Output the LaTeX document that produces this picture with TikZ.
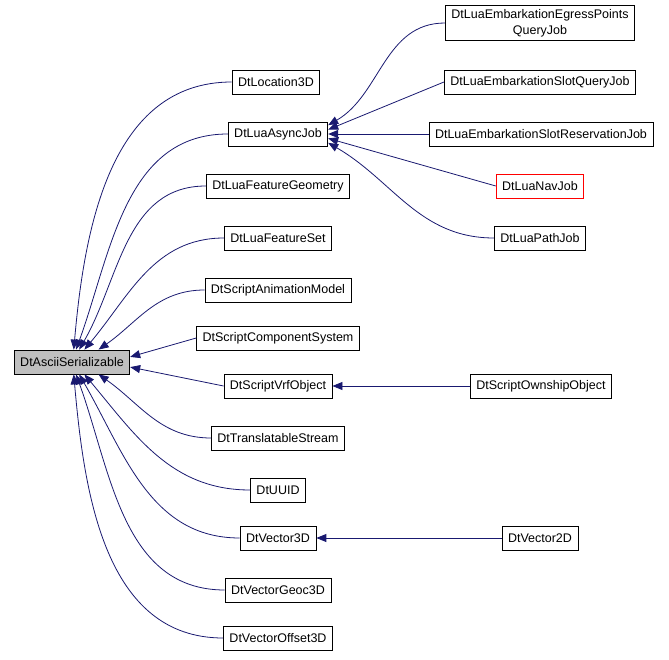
\documentclass[tikz,border=0pt]{standalone}
\usepackage{fontspec}
\setmainfont{Liberation Sans}
\usetikzlibrary{arrows.meta}

\definecolor{edgeblue}{HTML}{191970}

\begin{document}
\begin{tikzpicture}[x=1pt,y=-1pt,thick,
  class node/.style={draw,rectangle,inner xsep=6pt,minimum height=24pt,line width=0.8pt,font=\fontsize{12.5}{15}\selectfont},
  edge/.style={{Triangle[length=10pt,width=8pt,fill=edgeblue]}-,draw=edgeblue,line width=0.8pt}]

  \useasboundingbox (0,0) rectangle (669,660);

  \node[class node,fill=black!25] (ascii) at (72,362) {DtAsciiSerializable};

  \node[class node] (loc) at (276,82) {DtLocation3D};
  \node[class node] (async) at (278,134) {DtLuaAsyncJob};
  \node[class node] (geom) at (278,186) {DtLuaFeatureGeometry};
  \node[class node] (fset) at (278,238) {DtLuaFeatureSet};
  \node[class node] (anim) at (278,290) {DtScriptAnimationModel};
  \node[class node] (comp) at (278,338) {DtScriptComponentSystem};
  \node[class node] (vrf) at (278,386) {DtScriptVrfObject};
  \node[class node] (trans) at (278,438) {DtTranslatableStream};
  \node[class node] (uuid) at (278,490) {DtUUID};
  \node[class node] (v3d) at (278,538) {DtVector3D};
  \node[class node] (geoc) at (278,590) {DtVectorGeoc3D};
  \node[class node] (offs) at (278,638) {DtVectorOffset3D};

  \node[class node,align=center,font=\fontsize{12.5}{16}\selectfont] (egress) at (540,23) {DtLuaEmbarkationEgressPoints\\QueryJob};
  \node[class node] (slotq) at (540,82) {DtLuaEmbarkationSlotQueryJob};
  \node[class node] (slotr) at (541,134) {DtLuaEmbarkationSlotReservationJob};
  \node[class node,draw=red] (nav) at (540,186) {DtLuaNavJob};
  \node[class node] (path) at (540,238) {DtLuaPathJob};
  \node[class node] (own) at (541,386) {DtScriptOwnshipObject};
  \node[class node] (v2d) at (540,538) {DtVector2D};

  % base class edges
  \draw[edge] (ascii.82) to[out=85,in=180] (loc.west);
  \draw[edge] (ascii.72) to[out=70,in=180] (async.west);
  \draw[edge] (ascii.60) to[out=60,in=180] (geom.west);
  \draw[edge] (ascii.45) to[out=50,in=180] (fset.west);
  \draw[edge] (ascii.25) to[out=35,in=180] (anim.west);
  \draw[edge] (ascii.5) -- (comp.west);
  \draw[edge] (ascii.-5) -- (vrf.west);
  \draw[edge] (ascii.-25) to[out=-35,in=180] (trans.west);
  \draw[edge] (ascii.-45) to[out=-50,in=180] (uuid.west);
  \draw[edge] (ascii.-60) to[out=-60,in=180] (v3d.west);
  \draw[edge] (ascii.-72) to[out=-70,in=180] (geoc.west);
  \draw[edge] (ascii.-82) to[out=-85,in=180] (offs.west);

  % derived edges
  \draw[edge] (async.10) to[out=30,in=180] (egress.west);
  \draw[edge] (async.5) -- (slotq.west);
  \draw[edge] (async.east) -- (slotr.west);
  \draw[edge] (async.-5) -- (nav.west);
  \draw[edge] (async.-10) to[out=-30,in=180] (path.west);
  \draw[edge] (vrf.east) -- (own.west);
  \draw[edge] (v3d.east) -- (v2d.west);
\end{tikzpicture}
\end{document}
